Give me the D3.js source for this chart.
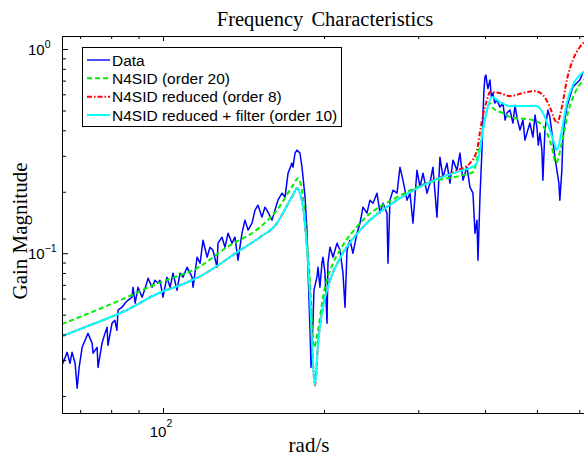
<!DOCTYPE html>
<html><head><meta charset="utf-8">
<script src="https://cdn.jsdelivr.net/npm/d3@7"></script>
<style>body{margin:0;background:#fff}svg{display:block}</style>
</head><body>
<svg id="c" width="584" height="456"></svg>
<script>
// ---- data ----
const dataFreq = [64.7,65.0,66.2,67.0,67.6,68.5,69.1,69.7,70.6,71.5,72.4,73.7,74.0,75.3,75.6,76.9,77.9,78.6,78.9,80.3,81.3,82.0,82.4,83.8,84.9,86.0,87.5,87.9,88.7,89.8,91.4,92.6,93.8,95.4,96.6,97.9,
98.7,100.0,101.7,103.1,104.4,106.2,107.6,109.0,110.9,113.3,113.8,115.8,117.3,118.8,120.9,122.4,124.0,126.2,126.7,128.9,130.6,132.3,134.6,136.3,138.1,140.5,142.3,144.2,146.7,148.6,150.5,153.1,155.1,157.1,159.9,161.9,164.0,166.9,169.1,171.3,174.2,175.0,176.5,178.0,180.3,181.9,182.7,184.3,185.8,186.6,188.3,189.1,190.7,191.5,194.0,194.9,196.5,198.2,199.1,200.8,202.6,203.4,205.2,207.9,211.5,214.2,
217.0,218.9,220.8,223.6,226.5,230.5,233.5,236.5,240.6,243.7,246.9,251.2,254.5,257.8,262.2,263.4,265.6,269.1,273.8,277.3,280.9,285.8,289.5,293.3,298.4,302.3,306.2,311.5,315.5,319.6,325.2,329.4,333.7,339.5,343.9,348.4,354.4,359.0,363.7,370.0,374.8,379.7,383.0,386.3,388.0,391.3,394.7,396.4,398.1,399.8,401.5,
403.3,405.0,408.5,411.0,413.8,417.0,421.0,426.5,432.0,436.0,439.5,445.2,451.0,455.0,458.8,464.8,470.8,475.0,479.0,485.2,491.5,496.0,500.0,503.0,506.5,510.9,513.1,517.5,524.2,528.7,535.6,540.2,544.9,549.6,551.9,556.7,559.1,563.9,568.8,576.2,583.7,593.8,601.5,609.3];
const dataMag = [0.0324,0.0289,0.0327,0.0289,0.0327,0.0289,0.0218,0.0276,0.0346,0.0375,0.0405,0.0362,0.0324,0.0346,0.0276,0.0362,0.0405,0.0434,0.0354,0.0454,0.0469,0.0419,0.0526,0.0544,0.0569,0.0588,0.0609,0.0681,0.0569,0.0681,0.0609,0.0674,0.0754,0.0681,0.0737,0.0713,
0.0737,0.0609,0.0763,0.0681,0.0798,0.0659,0.0798,0.0763,0.0854,0.0763,0.0681,0.0956,0.0893,0.1158,0.0956,0.1070,0.1034,0.0854,0.1120,0.1198,0.1070,0.1254,0.1120,0.1198,0.0924,0.1254,0.1452,0.1297,0.1403,0.1625,0.1719,0.1502,0.1681,0.1589,0.1452,0.1625,0.1818,0.1968,0.1881,0.2466,0.2761,0.2639,0.3091,0.3198,0.3091,0.2639,0.2357,0.1881,0.1297,0.0854,0.0419,0.0276,0.0454,0.0659,0.0763,0.0854,0.0681,0.0893,0.0956,0.0798,0.0454,0.0893,0.1070,0.0956,0.1120,0.1034,
0.0798,0.0544,0.1034,0.1158,0.1000,0.1254,0.1403,0.1681,0.1571,0.1818,0.1758,0.1968,0.1571,0.1758,0.1571,0.0893,0.1818,0.2035,0.1968,0.2639,0.2279,0.1818,0.1968,0.1403,0.2551,0.2106,0.2466,0.1968,0.2203,0.2639,0.1502,0.2954,0.2357,0.2761,0.2203,0.2856,0.2551,0.3091,0.2279,0.2639,0.2106,0.1968,0.1254,0.1452,0.0924,0.1881,0.3198,0.4746,0.6295,0.7291,0.7457,
0.6813,0.6400,0.7048,0.5815,0.6085,0.5436,0.5623,0.5195,0.5436,0.4487,0.4855,0.5022,0.4338,0.5310,0.4642,0.4008,0.4487,0.3580,0.3875,0.4338,0.3703,0.4746,0.4146,0.3383,0.3875,0.3198,0.2279,0.4008,0.5022,0.4642,0.3580,0.2954,0.2551,0.2203,0.1818,0.2551,0.3580,0.4487,0.5195,0.5815,0.6512,0.6813,0.7048,0.7627];

const n20Freq = [64.7,83.1,100,107.6,113.8,131.7,151.8,163.3,175.0,178.8,182.7,185.8,188.3,190.7,191.5,194.9,199.1,207.9,214.2,236.5,273.8,315.5,363.7,379.7,391.3,403.3,408.5,413.8,432.0,451.0,479.0,506.5,522.0,533.3,542.5,556.7,571.3,588.7,606.7,619.9];
const n20Mag = [0.0449,0.0588,0.0729,0.0780,0.0825,0.1070,0.1341,0.1625,0.2154,0.2331,0.1881,0.1158,0.0713,0.0375,0.0346,0.0419,0.0609,0.0893,0.1034,0.1452,0.1881,0.2228,0.2412,0.2494,0.3383,0.5022,0.5436,0.5137,0.4855,0.4590,0.4539,0.4338,0.3875,0.3307,0.2761,0.3461,0.4855,0.6085,0.6892,0.7209];

const red8Freq = [64.7,73.0,83.1,100,107.6,117.3,139.3,151.8,163.3,167.6,172.7,175.0,178.0,180.3,182.7,184.3,185.8,188.3,190.7,192.4,194.9,199.1,205.2,214.2,236.5,273.8,315.5,354.4,374.8,386.3,391.3,396.4,403.3,408.5,426.5,445.2,470.8,495.7,513.1,528.7,540.2,544.9,556.7,568.8,583.7,601.5,619.9];
const red8Mag = [0.0392,0.0444,0.0508,0.0651,0.0697,0.0771,0.1034,0.1198,0.1403,0.1571,0.1818,0.1924,0.2083,0.1968,0.1681,0.1372,0.1070,0.0609,0.0289,0.0225,0.0362,0.0544,0.0737,0.0945,0.1341,0.1818,0.2240,0.2540,0.2761,0.3198,0.3918,0.4746,0.5623,0.6154,0.6085,0.5881,0.6085,0.6224,0.5950,0.5195,0.4487,0.4338,0.5195,0.7048,0.8833,1.0228,1.1069];

const filt10Freq = [64.7,73.0,83.1,100,107.6,117.3,139.3,151.8,163.3,167.6,172.7,175.0,178.0,180.3,182.7,184.3,185.8,188.3,190.7,192.4,194.9,199.1,205.2,214.2,236.5,273.8,315.5,363.7,374.8,386.3,391.3,396.4,403.3,412.0,426.5,445.2,470.8,500.0,513.1,528.7,540.2,544.9,556.7,568.8,583.7,601.5,619.9];
const filt10Mag = [0.0392,0.0444,0.0508,0.0651,0.0697,0.0771,0.1034,0.1198,0.1403,0.1571,0.1818,0.1924,0.2083,0.1968,0.1681,0.1372,0.1070,0.0609,0.0289,0.0225,0.0362,0.0544,0.0737,0.0945,0.1341,0.1818,0.2228,0.2551,0.2610,0.2761,0.3198,0.4008,0.5022,0.5815,0.5497,0.5254,0.5254,0.5254,0.4855,0.4008,0.3383,0.3198,0.4008,0.5436,0.6661,0.7457,0.7890];

const seriesNames = ["Data","N4SID (order 20)","N4SID reduced (order 8)","N4SID reduced + filter (order 10)"];
const xMajorTicks = [100];
const xMinorTicks = [70,80,90,200,300,400,500,600];
const yMajorTicks = [0.1,1];
const yMinorTicks = [0.02,0.03,0.04,0.05,0.06,0.07,0.08,0.09,0.2,0.3,0.4,0.5,0.6,0.7,0.8,0.9];
const xTickLabels = [{v:100, base:"10", exp:"2"}];
const yTickLabels = [{v:1, base:"10", exp:"0"},{v:0.1, base:"10", exp:"\u22121"}];
const titleText = "Frequency Characteristics";
const xLabelText = "rad/s";
const yLabelText = "Gain Magnitude";

// ---- layout ----
const L = 62, R = 588, T = 36, B = 413;
const svg = d3.select("#c");
const x = d3.scaleLog().domain([64.74, 623]).range([L, R]);
const y = d3.scaleLog().domain([0.0165, 1.158]).range([B, T]);

svg.append("defs").append("clipPath").attr("id","clip")
  .append("rect").attr("x",L).attr("y",T).attr("width",R-L).attr("height",B-T);

const sans = "'Liberation Sans', Arial, Helvetica, sans-serif";
const serif = "'Liberation Serif', 'Times New Roman', serif";

const zip = (f,m)=>f.map((v,i)=>[v,m[i]]);
const series = [
  {pts: zip(dataFreq,dataMag), color:"#0000ff", w:1.5, dash:null, curve:d3.curveLinear},
  {pts: zip(n20Freq,n20Mag), color:"#00ee00", w:2, dash:"5,3", curve:d3.curveMonotoneX},
  {pts: zip(red8Freq,red8Mag), color:"#ff0000", w:2, dash:"5,2,1.5,2", curve:d3.curveMonotoneX},
  {pts: zip(filt10Freq,filt10Mag), color:"#00ffff", w:2, dash:null, curve:d3.curveMonotoneX}
];

const plot = svg.append("g").attr("clip-path","url(#clip)");
series.forEach(s=>{
  const line = d3.line().x(d=>x(d[0])).y(d=>y(d[1])).curve(s.curve);
  plot.append("path").attr("d", line(s.pts)).attr("fill","none")
    .attr("stroke", s.color).attr("stroke-width", s.w)
    .attr("stroke-dasharray", s.dash).attr("stroke-linejoin","round");
});

// ---- axes ----
function styleAxis(g){
  g.selectAll("path.domain").attr("stroke","#000").attr("stroke-width",1);
  g.selectAll(".tick line").attr("stroke","#000").attr("stroke-width",1);
  g.selectAll(".tick text").remove();
}
svg.append("g").attr("transform",`translate(0,${B})`)
  .call(d3.axisBottom(x).tickValues(xMinorTicks).tickSize(-3).tickSizeOuter(0).tickFormat("")).call(styleAxis);
svg.append("g").attr("transform",`translate(0,${B})`)
  .call(d3.axisBottom(x).tickValues(xMajorTicks).tickSize(-5).tickSizeOuter(0).tickFormat("")).call(styleAxis);
svg.append("g").attr("transform",`translate(0,${T})`)
  .call(d3.axisTop(x).tickValues(xMinorTicks).tickSize(-3).tickSizeOuter(0).tickFormat("")).call(styleAxis);
svg.append("g").attr("transform",`translate(0,${T})`)
  .call(d3.axisTop(x).tickValues(xMajorTicks).tickSize(-5).tickSizeOuter(0).tickFormat("")).call(styleAxis);
svg.append("g").attr("transform",`translate(${L},0)`)
  .call(d3.axisLeft(y).tickValues(yMinorTicks).tickSize(-4).tickSizeOuter(0).tickFormat("")).call(styleAxis);
svg.append("g").attr("transform",`translate(${L},0)`)
  .call(d3.axisLeft(y).tickValues(yMajorTicks).tickSize(-6).tickSizeOuter(0).tickFormat("")).call(styleAxis);
svg.append("g").attr("transform",`translate(${R},0)`)
  .call(d3.axisRight(y).tickValues(yMinorTicks).tickSize(-4).tickSizeOuter(0).tickFormat("")).call(styleAxis);

// tick labels with superscripts
xTickLabels.forEach(t=>{
  const tx = svg.append("text").attr("x", x(t.v)-2).attr("y", B+24)
    .attr("font-family", sans).attr("font-size", 15).attr("text-anchor","middle");
  tx.append("tspan").text(t.base);
  tx.append("tspan").attr("dy",-10).attr("font-size",10.5).text(t.exp);
});
yTickLabels.forEach(t=>{
  const tx = svg.append("text").attr("x", 28).attr("y", y(t.v)+6)
    .attr("font-family", sans).attr("font-size", 15);
  tx.append("tspan").text(t.base);
  tx.append("tspan").attr("dy",-7).attr("font-size",10.5).text(t.exp);
});

// titles
svg.append("text").attr("x", 325).attr("y", 26).attr("text-anchor","middle")
  .attr("font-family", serif).attr("font-size", 20.5).attr("word-spacing", 3).text(titleText);
svg.append("text").attr("x", 309).attr("y", 452).attr("text-anchor","middle")
  .attr("font-family", serif).attr("font-size", 21).text(xLabelText);
svg.append("text").attr("transform","translate(27,231) rotate(-90)").attr("text-anchor","middle")
  .attr("font-family", serif).attr("font-size", 21).text(yLabelText);

// ---- legend ----
const lg = svg.append("g");
lg.append("rect").attr("x",82.5).attr("y",47.5).attr("width",259).attr("height",79)
  .attr("fill","#fff").attr("stroke","#000").attr("stroke-width",1);
const rowY = [60, 78.3, 96.7, 115];
series.forEach((s,i)=>{
  lg.append("line").attr("x1",87).attr("x2",110).attr("y1",rowY[i]).attr("y2",rowY[i])
    .attr("stroke",s.color).attr("stroke-width", i===0?1.4:2).attr("stroke-dasharray", s.dash);
  lg.append("text").attr("x",112).attr("y",rowY[i]+5.5).attr("font-family",sans)
    .attr("font-size",15.5).text(seriesNames[i]);
});
</script>
</body></html>
